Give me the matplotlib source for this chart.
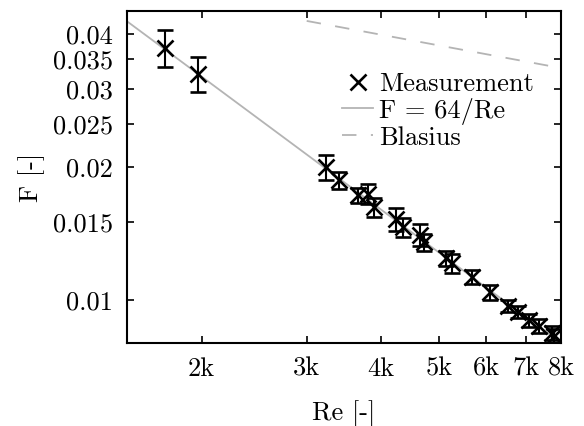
import numpy as np
import matplotlib
matplotlib.use("Agg")
import matplotlib.pyplot as plt
from matplotlib.ticker import FixedLocator, FixedFormatter, NullLocator

plt.rcParams["font.family"] = ["cmr10", "DejaVu Serif"]
plt.rcParams["mathtext.fontset"] = "cm"
plt.rcParams["axes.formatter.use_mathtext"] = True

re_meas = [1737, 1973, 3237, 3402, 3662, 3806, 3895, 4242, 4357, 4636, 4724,
           5126, 5265, 5668, 6096, 6511, 6767, 7063, 7339, 7718, 7800]
f_meas = [0.0372, 0.0325, 0.0200, 0.01866, 0.01726, 0.01740, 0.01622, 0.01523,
          0.01461, 0.01402, 0.01352, 0.01244, 0.01212, 0.01127, 0.01042,
          0.00969, 0.00940, 0.00901, 0.00874, 0.00842, 0.00828]
f_err = [0.0035, 0.0029, 0.0013, 0.0008, 0.0007, 0.0009, 0.0008, 0.0009,
         0.0007, 0.0008, 0.0006, 0.0005, 0.0006, 0.0004, 0.0004, 0.0003,
         0.0003, 0.0003, 0.0003, 0.0003, 0.0003]

x_ticks = [2000, 3000, 4000, 5000, 6000, 7000, 8000]
x_labels = ["2k", "3k", "4k", "5k", "6k", "7k", "8k"]
y_ticks = [0.01, 0.015, 0.02, 0.025, 0.03, 0.035, 0.04]
y_labels = ["0.01", "0.015", "0.02", "0.025", "0.03", "0.035", "0.04"]

fig = plt.figure(figsize=(5.84, 4.26), dpi=100)
ax = fig.add_axes([0.2175, 0.195, 0.743, 0.779])

re_lam = np.linspace(1500, 8000, 200)
re_bl = np.linspace(3000, 8000, 100)

ax.errorbar(re_meas, f_meas, yerr=f_err, fmt="x", color="black", ms=11,
            mew=1.9, elinewidth=1.5, capsize=5.5, capthick=1.5, zorder=3,
            label="Measurement")
ax.plot(re_lam, 64 / re_lam, color="#b4b4b4", lw=1.3, label="F = 64/Re")
ax.plot(re_bl, 0.3164 / re_bl ** 0.25, color="#b4b4b4", lw=1.3,
        dashes=(8, 8), label="Blasius")

ax.set_xscale("log")
ax.set_yscale("log")
ax.set_xlim(1500, 8000)
ax.set_ylim(0.008, 0.045)

ax.xaxis.set_major_locator(FixedLocator(x_ticks))
ax.xaxis.set_major_formatter(FixedFormatter(x_labels))
ax.xaxis.set_minor_locator(NullLocator())
ax.yaxis.set_major_locator(FixedLocator(y_ticks))
ax.yaxis.set_major_formatter(FixedFormatter(y_labels))
ax.yaxis.set_minor_locator(NullLocator())
ax.tick_params(direction="in", top=True, right=True, length=5, width=1.2,
               labelsize=19, pad=10)
for sp in ax.spines.values():
    sp.set_linewidth(1.5)

ax.set_xlabel("Re [-]", fontsize=19, labelpad=14)
ax.set_ylabel("F [-]", fontsize=19, labelpad=6)

h, l = ax.get_legend_handles_labels()
order = [2, 0, 1]
h = [h[i] for i in order]
l = [l[i] for i in order]
h[0] = h[0][0]
ax.legend(h, l, loc="upper left", bbox_to_anchor=(0.495, 0.815), frameon=False,
          fontsize=19, handlelength=1.2, handletextpad=0.2, labelspacing=0.05,
          borderpad=0, borderaxespad=0)

fig.savefig("out.png", dpi=100)
